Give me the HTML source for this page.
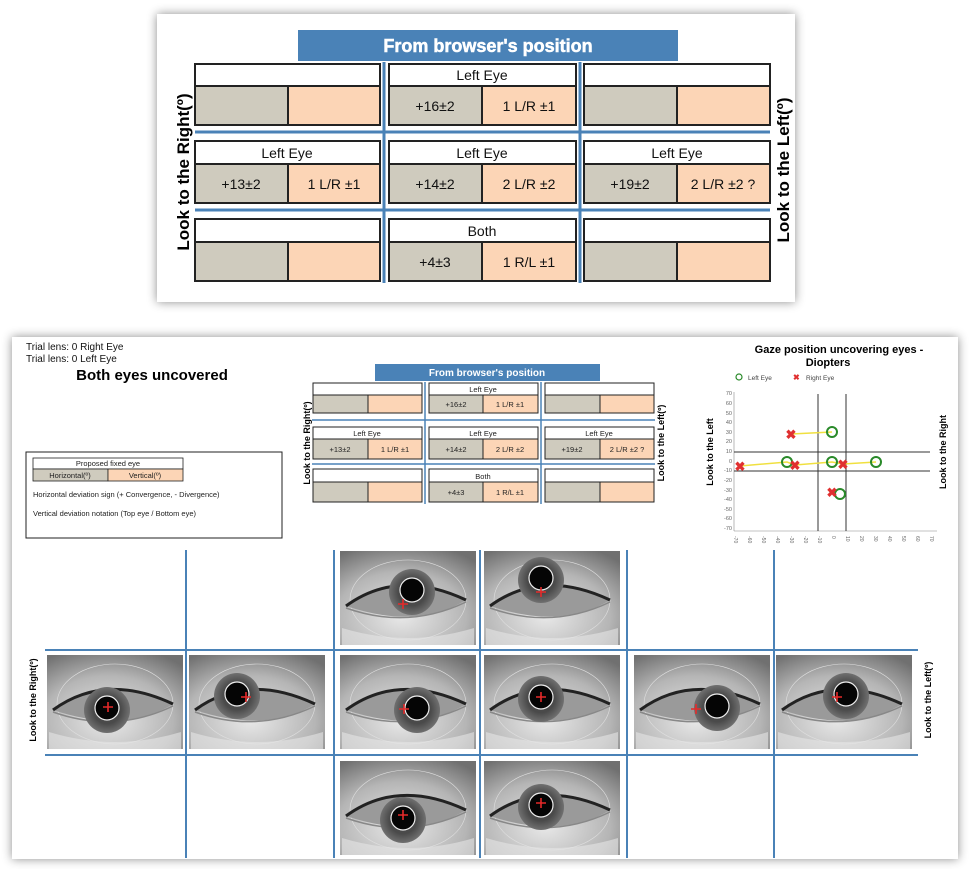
<!DOCTYPE html>
<html><head><meta charset="utf-8"><style>
html,body{margin:0;padding:0;background:#fff;}
svg{display:block;font-family:"Liberation Sans",Arial,sans-serif;}
</style></head><body>
<svg width="969" height="869" viewBox="0 0 969 869" xmlns="http://www.w3.org/2000/svg">
<defs>
<filter id="sh" x="-5%" y="-5%" width="110%" height="110%"><feDropShadow dx="0" dy="0" stdDeviation="5" flood-color="#000" flood-opacity="0.45"/></filter>
<radialGradient id="skin" cx="0.45" cy="0.7" r="0.8"><stop offset="0" stop-color="#e8e8e8"/><stop offset="0.6" stop-color="#b5b5b5"/><stop offset="1" stop-color="#707070"/></radialGradient>
<radialGradient id="iris" cx="0.5" cy="0.5" r="0.5"><stop offset="0.6" stop-color="#4a4a4a"/><stop offset="1" stop-color="#707070"/></radialGradient>
<g id="eye">
<rect x="-68" y="-47" width="136" height="94" fill="url(#skin)"/>
<ellipse cx="0" cy="2" rx="58" ry="40" fill="none" stroke="#e0e0e0" stroke-width="0.6"/>
<path d="M-62,8 Q-10,-30 58,2 Q10,32 -62,8Z" fill="#9a9a9a"/>
<path d="M-62,8 Q-10,-30 58,2" fill="none" stroke="#222" stroke-width="3"/>
<path d="M-62,10 Q0,32 58,4" fill="none" stroke="#888" stroke-width="1.5"/>
<path d="M-66,30 Q0,50 66,30 L66,47 L-66,47Z" fill="#e6e6e6" opacity="0.6"/>
</g>
</defs>

<!-- top panel -->
<rect x="157" y="14" width="638" height="288" fill="#fff" filter="url(#sh)"/>
<rect x="298" y="30" width="380" height="31" fill="#4a82b7"/>
<text x="488" y="52" font-size="18" font-weight="bold" fill="#fff" text-anchor="middle" stroke="#fff" stroke-width="0.5">From browser's position</text>
<g stroke="#4a82b7" stroke-width="3">
<line x1="195" y1="132" x2="770" y2="132"/><line x1="195" y1="210" x2="770" y2="210"/>
<line x1="384" y1="62" x2="384" y2="283"/><line x1="580" y1="62" x2="580" y2="283"/>
</g>
<g stroke="#222" stroke-width="2">
<rect x="195" y="64" width="185" height="22" fill="#fff"/><rect x="195" y="86" width="93" height="39" fill="#cfcbbe"/><rect x="288" y="86" width="92" height="39" fill="#fcd5b6"/>
<rect x="389" y="64" width="187" height="22" fill="#fff"/><rect x="389" y="86" width="93" height="39" fill="#cfcbbe"/><rect x="482" y="86" width="94" height="39" fill="#fcd5b6"/>
<rect x="584" y="64" width="186" height="22" fill="#fff"/><rect x="584" y="86" width="93" height="39" fill="#cfcbbe"/><rect x="677" y="86" width="93" height="39" fill="#fcd5b6"/>
<rect x="195" y="141" width="185" height="23" fill="#fff"/><rect x="195" y="164" width="93" height="39" fill="#cfcbbe"/><rect x="288" y="164" width="92" height="39" fill="#fcd5b6"/>
<rect x="389" y="141" width="187" height="23" fill="#fff"/><rect x="389" y="164" width="93" height="39" fill="#cfcbbe"/><rect x="482" y="164" width="94" height="39" fill="#fcd5b6"/>
<rect x="584" y="141" width="186" height="23" fill="#fff"/><rect x="584" y="164" width="93" height="39" fill="#cfcbbe"/><rect x="677" y="164" width="93" height="39" fill="#fcd5b6"/>
<rect x="195" y="219" width="185" height="23" fill="#fff"/><rect x="195" y="242" width="93" height="39" fill="#cfcbbe"/><rect x="288" y="242" width="92" height="39" fill="#fcd5b6"/>
<rect x="389" y="219" width="187" height="23" fill="#fff"/><rect x="389" y="242" width="93" height="39" fill="#cfcbbe"/><rect x="482" y="242" width="94" height="39" fill="#fcd5b6"/>
<rect x="584" y="219" width="186" height="23" fill="#fff"/><rect x="584" y="242" width="93" height="39" fill="#cfcbbe"/><rect x="677" y="242" width="93" height="39" fill="#fcd5b6"/>
</g>
<g font-size="14" fill="#111" text-anchor="middle">
<text x="482" y="80">Left Eye</text><text x="435" y="111">+16±2</text><text x="529" y="111">1 L/R ±1</text>
<text x="287" y="158">Left Eye</text><text x="241" y="189">+13±2</text><text x="334" y="189">1 L/R ±1</text>
<text x="482" y="158">Left Eye</text><text x="435" y="189">+14±2</text><text x="529" y="189">2 L/R ±2</text>
<text x="677" y="158">Left Eye</text><text x="630" y="189">+19±2</text><text x="723" y="189">2 L/R ±2 ?</text>
<text x="482" y="236">Both</text><text x="435" y="267">+4±3</text><text x="529" y="267">1 R/L ±1</text>
</g>
<text transform="translate(189,172) rotate(-90)" font-size="17" font-weight="bold" text-anchor="middle">Look to the Right(º)</text>
<text transform="translate(789,170) rotate(-90)" font-size="17" font-weight="bold" text-anchor="middle">Look to the Left(º)</text>

<!-- bottom panel -->
<rect x="12" y="337" width="946" height="522" fill="#fff" filter="url(#sh)"/>
<g font-size="10" fill="#111">
<text x="26" y="350">Trial lens: 0   Right Eye</text>
<text x="26" y="362">Trial lens: 0   Left Eye</text>
</g>
<text x="152" y="380" font-size="15" font-weight="bold" text-anchor="middle">Both eyes uncovered</text>

<rect x="26" y="452" width="256" height="86" fill="#fff" stroke="#222" stroke-width="1"/>
<rect x="33" y="458" width="150" height="11" fill="#fff" stroke="#222" stroke-width="0.8"/>
<rect x="33" y="469" width="75" height="12" fill="#cfcbbe" stroke="#222" stroke-width="0.8"/>
<rect x="108" y="469" width="75" height="12" fill="#fcd5b6" stroke="#222" stroke-width="0.8"/>
<g font-size="7.5" fill="#222">
<text x="108" y="466" text-anchor="middle">Proposed fixed eye</text>
<text x="70" y="478" text-anchor="middle">Horizontal(º)</text>
<text x="145" y="478" text-anchor="middle">Vertical(º)</text>
<text x="33" y="497">Horizontal deviation sign (+ Convergence, - Divergence)</text>
<text x="33" y="516">Vertical deviation notation (Top eye / Bottom eye)</text>
</g>

<rect x="375" y="364" width="225" height="17" fill="#4a82b7"/>
<text x="487" y="376" font-size="10" font-weight="bold" fill="#fff" text-anchor="middle">From browser's position</text>
<g stroke="#4a82b7" stroke-width="1.5">
<line x1="312" y1="420" x2="655" y2="420"/><line x1="312" y1="464" x2="655" y2="464"/>
<line x1="425" y1="382" x2="425" y2="504"/><line x1="541" y1="382" x2="541" y2="504"/>
</g>
<g stroke="#222" stroke-width="1">
<rect x="313" y="383" width="109" height="12" fill="#fff"/><rect x="313" y="395" width="55" height="18" fill="#cfcbbe"/><rect x="368" y="395" width="54" height="18" fill="#fcd5b6"/>
<rect x="429" y="383" width="109" height="12" fill="#fff"/><rect x="429" y="395" width="54" height="18" fill="#cfcbbe"/><rect x="483" y="395" width="55" height="18" fill="#fcd5b6"/>
<rect x="545" y="383" width="109" height="12" fill="#fff"/><rect x="545" y="395" width="55" height="18" fill="#cfcbbe"/><rect x="600" y="395" width="54" height="18" fill="#fcd5b6"/>
<rect x="313" y="427" width="109" height="12" fill="#fff"/><rect x="313" y="439" width="55" height="20" fill="#cfcbbe"/><rect x="368" y="439" width="54" height="20" fill="#fcd5b6"/>
<rect x="429" y="427" width="109" height="12" fill="#fff"/><rect x="429" y="439" width="54" height="20" fill="#cfcbbe"/><rect x="483" y="439" width="55" height="20" fill="#fcd5b6"/>
<rect x="545" y="427" width="109" height="12" fill="#fff"/><rect x="545" y="439" width="55" height="20" fill="#cfcbbe"/><rect x="600" y="439" width="54" height="20" fill="#fcd5b6"/>
<rect x="313" y="469" width="109" height="13" fill="#fff"/><rect x="313" y="482" width="55" height="20" fill="#cfcbbe"/><rect x="368" y="482" width="54" height="20" fill="#fcd5b6"/>
<rect x="429" y="469" width="109" height="13" fill="#fff"/><rect x="429" y="482" width="54" height="20" fill="#cfcbbe"/><rect x="483" y="482" width="55" height="20" fill="#fcd5b6"/>
<rect x="545" y="469" width="109" height="13" fill="#fff"/><rect x="545" y="482" width="55" height="20" fill="#cfcbbe"/><rect x="600" y="482" width="54" height="20" fill="#fcd5b6"/>
</g>
<g font-size="7.5" fill="#222" text-anchor="middle">
<text x="483" y="392">Left Eye</text><text x="456" y="407">+16±2</text><text x="510" y="407">1 L/R ±1</text>
<text x="367" y="436">Left Eye</text><text x="340" y="452">+13±2</text><text x="395" y="452">1 L/R ±1</text>
<text x="483" y="436">Left Eye</text><text x="456" y="452">+14±2</text><text x="510" y="452">2 L/R ±2</text>
<text x="599" y="436">Left Eye</text><text x="572" y="452">+19±2</text><text x="627" y="452">2 L/R ±2 ?</text>
<text x="483" y="479">Both</text><text x="456" y="495">+4±3</text><text x="510" y="495">1 R/L ±1</text>
</g>
<text transform="translate(310,443) rotate(-90)" font-size="9" font-weight="bold" text-anchor="middle">Look to the Right(º)</text>
<text transform="translate(664,443) rotate(-90)" font-size="9" font-weight="bold" text-anchor="middle">Look to the Left(º)</text>

<!-- gaze chart -->
<text x="839" y="353" font-size="11" font-weight="bold" text-anchor="middle">Gaze position uncovering eyes -</text>
<text x="828" y="366" font-size="11" font-weight="bold" text-anchor="middle">Diopters</text>
<circle cx="739" cy="377" r="3" fill="none" stroke="#2a8a2a" stroke-width="1.2"/>
<text x="748" y="380" font-size="6.5" fill="#444">Left Eye</text>
<text x="793" y="380" font-size="8" fill="#e03030" font-weight="bold">✖</text>
<text x="806" y="380" font-size="6.5" fill="#444">Right Eye</text>
<line x1="734" y1="392" x2="734" y2="531" stroke="#888" stroke-width="0.6"/>
<line x1="734" y1="531" x2="937" y2="531" stroke="#888" stroke-width="0.6"/>
<g font-size="5.5" fill="#666" text-anchor="end">
<text x="732" y="395">70</text><text x="732" y="405">60</text><text x="732" y="415">50</text><text x="732" y="424">40</text><text x="732" y="434">30</text><text x="732" y="443">20</text><text x="732" y="453">10</text><text x="732" y="463">0</text><text x="732" y="472">-10</text><text x="732" y="482">-20</text><text x="732" y="492">-30</text><text x="732" y="501">-40</text><text x="732" y="511">-50</text><text x="732" y="520">-60</text><text x="732" y="530">-70</text>
</g>
<g font-size="5" fill="#666">
<text transform="translate(734,536) rotate(90)">-70</text><text transform="translate(748,536) rotate(90)">-60</text><text transform="translate(762,536) rotate(90)">-50</text><text transform="translate(776,536) rotate(90)">-40</text><text transform="translate(790,536) rotate(90)">-30</text><text transform="translate(804,536) rotate(90)">-20</text><text transform="translate(818,536) rotate(90)">-10</text><text transform="translate(832,536) rotate(90)">0</text><text transform="translate(846,536) rotate(90)">10</text><text transform="translate(860,536) rotate(90)">20</text><text transform="translate(874,536) rotate(90)">30</text><text transform="translate(888,536) rotate(90)">40</text><text transform="translate(902,536) rotate(90)">50</text><text transform="translate(916,536) rotate(90)">60</text><text transform="translate(930,536) rotate(90)">70</text>
</g>
<g stroke="#333" stroke-width="1">
<line x1="818" y1="394" x2="818" y2="531"/><line x1="846" y1="394" x2="846" y2="531"/>
<line x1="734" y1="452" x2="930" y2="452"/><line x1="734" y1="471" x2="930" y2="471"/>
</g>
<g stroke="#f0e040" stroke-width="1.5" fill="none">
<line x1="791" y1="434" x2="832" y2="432"/>
<polyline points="740,466 787,462 795,465 832,462 843,464 876,462"/>
</g>
<g fill="none" stroke="#2a8a2a" stroke-width="2">
<circle cx="832" cy="432" r="5"/><circle cx="787" cy="462" r="5"/><circle cx="832" cy="462" r="5"/><circle cx="876" cy="462" r="5"/><circle cx="840" cy="494" r="5"/>
</g>
<g font-size="13" fill="#e03030" text-anchor="middle" font-weight="bold">
<text x="791" y="439">✖</text><text x="740" y="471">✖</text><text x="795" y="470">✖</text><text x="843" y="469">✖</text><text x="832" y="497">✖</text>
</g>
<text transform="translate(713,452) rotate(-90)" font-size="9" font-weight="bold" text-anchor="middle">Look to the Left</text>
<text transform="translate(946,452) rotate(-90)" font-size="9" font-weight="bold" text-anchor="middle">Look to the Right</text>

<g stroke="#4a82b7" stroke-width="2">
<line x1="186" y1="550" x2="186" y2="858"/><line x1="334" y1="550" x2="334" y2="858"/><line x1="480" y1="550" x2="480" y2="858"/><line x1="627" y1="550" x2="627" y2="858"/><line x1="774" y1="550" x2="774" y2="858"/>
<line x1="45" y1="650" x2="918" y2="650"/><line x1="45" y1="755" x2="918" y2="755"/>
</g>

<g>
<use href="#eye" x="408" y="598"/><use href="#eye" x="552" y="598"/>
<use href="#eye" x="115" y="702"/><use href="#eye" x="257" y="702"/><use href="#eye" x="408" y="702"/><use href="#eye" x="552" y="702"/><use href="#eye" x="702" y="702"/><use href="#eye" x="844" y="702"/>
<use href="#eye" x="408" y="808"/><use href="#eye" x="552" y="808"/>
</g>
<g stroke="#eee" stroke-width="1.2">
<circle cx="412" cy="592" r="23" fill="url(#iris)" stroke="none"/><circle cx="412" cy="590" r="12" fill="#050505"/>
<circle cx="541" cy="580" r="23" fill="url(#iris)" stroke="none"/><circle cx="541" cy="578" r="12" fill="#050505"/>
<circle cx="107" cy="710" r="23" fill="url(#iris)" stroke="none"/><circle cx="107" cy="708" r="12" fill="#050505"/>
<circle cx="237" cy="696" r="23" fill="url(#iris)" stroke="none"/><circle cx="237" cy="694" r="12" fill="#050505"/>
<circle cx="417" cy="710" r="23" fill="url(#iris)" stroke="none"/><circle cx="417" cy="708" r="12" fill="#050505"/>
<circle cx="541" cy="699" r="23" fill="url(#iris)" stroke="none"/><circle cx="541" cy="697" r="12" fill="#050505"/>
<circle cx="717" cy="708" r="23" fill="url(#iris)" stroke="none"/><circle cx="717" cy="706" r="12" fill="#050505"/>
<circle cx="846" cy="696" r="23" fill="url(#iris)" stroke="none"/><circle cx="846" cy="694" r="12" fill="#050505"/>
<circle cx="403" cy="820" r="23" fill="url(#iris)" stroke="none"/><circle cx="403" cy="818" r="12" fill="#050505"/>
<circle cx="541" cy="807" r="23" fill="url(#iris)" stroke="none"/><circle cx="541" cy="805" r="12" fill="#050505"/>
</g>
<g stroke="#e52a2a" stroke-width="1.6">
<path d="M398,604h10M403,599v10"/><path d="M536,592h10M541,587v10"/>
<path d="M103,707h10M108,702v10"/><path d="M241,697h10M246,692v10"/><path d="M399,709h10M404,704v10"/><path d="M536,697h10M541,692v10"/><path d="M691,709h10M696,704v10"/><path d="M832,697h10M837,692v10"/>
<path d="M398,815h10M403,810v10"/><path d="M536,803h10M541,798v10"/>
</g>
<text transform="translate(36,700) rotate(-90)" font-size="9" font-weight="bold" text-anchor="middle">Look to the Right(º)</text>
<text transform="translate(931,700) rotate(-90)" font-size="9" font-weight="bold" text-anchor="middle">Look to the Left(º)</text>
</svg>
</body></html>
